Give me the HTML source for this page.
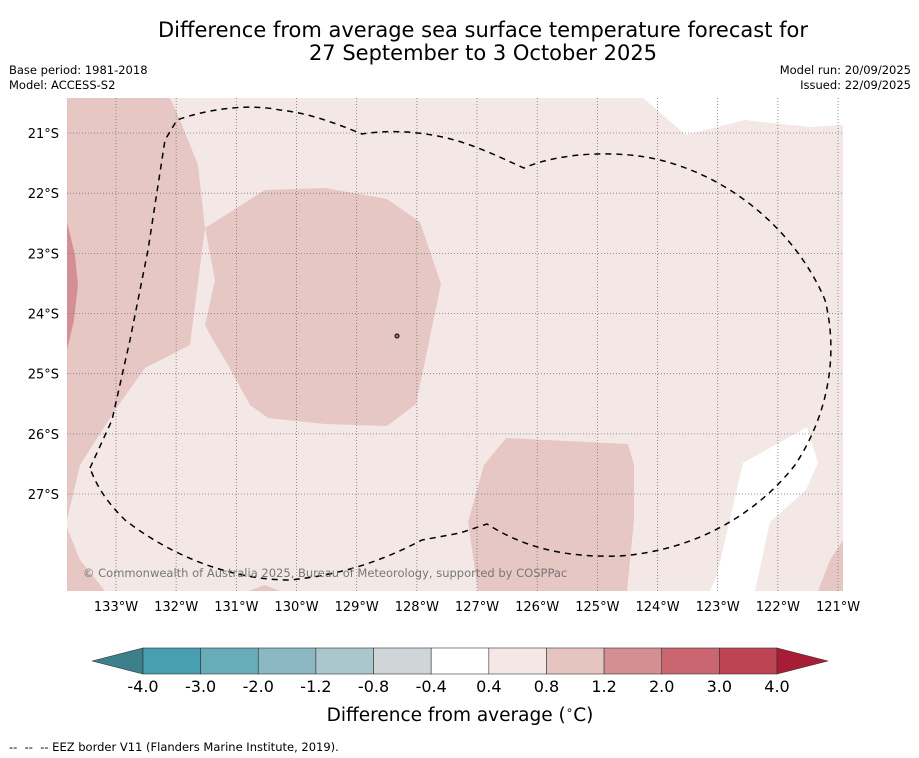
<!DOCTYPE html>
<html><head><meta charset="utf-8">
<style>
body{margin:0;background:#fff;width:919px;height:758px;overflow:hidden;font-family:"DejaVu Sans","Liberation Sans",sans-serif;}
.t{position:absolute;color:#000;}
</style></head>
<body>
<div class="t" style="left:0;width:966px;top:19px;text-align:center;font-size:21px;line-height:23px;">Difference from average sea surface temperature forecast for<br>27 September to 3 October 2025</div>
<div class="t" style="left:9px;top:63px;font-size:11.5px;line-height:15px;">Base period: 1981-2018<br>Model: ACCESS-S2</div>
<div class="t" style="right:8px;top:63px;font-size:11.5px;line-height:15px;text-align:right;">Model run: 20/09/2025<br>Issued: 22/09/2025</div>
<svg id="map" width="919" height="758" style="position:absolute;left:0;top:0" xmlns="http://www.w3.org/2000/svg">
<g>
<rect x="67" y="98" width="776" height="493" fill="#f3e8e6"/>
<polygon points="643,98 843,98 843,125 810,127 745,120 686,135" fill="#fff"/>
<polygon points="67,98 170,98 180,120 198,165 205,228 190,345 145,368 115,410 80,465 67,520" fill="#e6c7c3"/>
<polygon points="205,228 265,190 325,188 387,199 420,222 441,284 416,404 387,426 325,424 268,418 250,405 228,365 213,340 205,325 215,280" fill="#e6c7c3"/>
<polygon points="67,222 75,255 78,285 74,320 67,350" fill="#d48f95"/>
<polygon points="506,438 628,444 634,465 634,520 627,591 478,591 468,522 484,465" fill="#e6c7c3"/>
<polygon points="743,463 807,427 818,463 806,490 770,522 755,591 710,591 717,575" fill="#fff"/>
<polygon points="843,540 830,560 818,591 843,591" fill="#e6c7c3"/>
<polygon points="67,528 80,560 105,591 67,591" fill="#e6c7c3"/>
<polygon points="248,591 265,585 280,591" fill="#e6c7c3"/>
</g>
<g id="grid" stroke="#777" stroke-width="0.8" stroke-dasharray="1,2"></g>
<path d="M90,468 L112,420 L130,340 L148,250 L165,140 L177,120 C205,110 245,103 280,110 C310,113 340,125 362,134 C400,128 440,134 470,145 C490,152 510,162 524,168 C560,152 620,150 660,160 C740,180 800,240 825,300 C840,360 825,420 795,465 C760,510 700,550 620,556 C560,558 520,545 487,524 L460,533 L422,540 C380,562 340,575 290,580 C230,580 170,555 125,520 C110,505 98,490 90,468 Z" fill="none" stroke="#000" stroke-width="1.5" stroke-dasharray="6,5"/>
<circle cx="397" cy="336" r="2" fill="#888" stroke="#000" stroke-width="1"/>
<text x="83" y="577" font-size="11.5" fill="#777" font-family="DejaVu Sans,sans-serif">© Commonwealth of Australia 2025, Bureau of Meteorology, supported by COSPPac</text>
<g id="xt" font-size="13" text-anchor="middle"></g>
<g id="yt" font-size="13" text-anchor="end"></g>
<g id="cb"></g>
<text x="460" y="721" font-size="18.5" text-anchor="middle">Difference from average (<tspan font-size="12" dy="-7">∘</tspan><tspan dy="7">C)</tspan></text>
<text x="9" y="751" font-size="11.5" xml:space="preserve" style="white-space:pre">--  --  -- EEZ border V11 (Flanders Marine Institute, 2019).</text>
</svg>
<script>
const lonTicks=[133,132,131,130,129,128,127,126,125,124,123,122,121];
const latTicks=[21,22,23,24,25,26,27];
const cbLevels=["-4.0","-3.0","-2.0","-1.2","-0.8","-0.4","0.4","0.8","1.2","2.0","3.0","4.0"];
const cbColors=["#479fb0","#68abb9","#8bb7c3","#a9c7cc","#d0d6d8","#ffffff","#f3e8e6","#e6c5c1","#d48f95","#c9666f","#bd4553"];
const NS="http://www.w3.org/2000/svg";
const xs=lon=>116+(133-lon)*60.17, ys=lat=>133+(lat-21)*60.17;
const grid=document.getElementById('grid'),xt=document.getElementById('xt'),yt=document.getElementById('yt'),cb=document.getElementById('cb');
function mk(tag,a,p){const e=document.createElementNS(NS,tag);for(const k in a)e.setAttribute(k,a[k]);p.appendChild(e);return e;}
lonTicks.forEach(l=>{const x=xs(l);
 const g=mk('line',{x1:x,x2:x,y1:98,y2:591},grid);
 
 
 const t=mk('text',{x:x,y:611},xt);t.textContent=l+'°W';
 
 });
latTicks.forEach(l=>{const y=ys(l);
 const g=mk('line',{x1:67,x2:843,y1:y,y2:y},grid);
 
 
 const t=mk('text',{x:59,y:y+5},yt);t.textContent=l+'°S';
 
 });
const cx0=143,cw=(777-143)/11,cy=648,ch=26;
const lt=mk('polygon',{points:`92,${cy+ch/2} ${cx0},${cy} ${cx0},${cy+ch}`,fill:'#3d7f8a',stroke:'#333','stroke-width':0.6},cb);


cbColors.forEach((c,i)=>{const r=mk('rect',{x:cx0+i*cw,y:cy,width:cw,height:ch,fill:c,stroke:'#333','stroke-width':0.6},cb);
 
 });
const rt=mk('polygon',{points:`828,${cy+ch/2} 777,${cy} 777,${cy+ch}`,fill:'#a81c36',stroke:'#333','stroke-width':0.6},cb);


cbLevels.forEach((v,i)=>{const t=mk('text',{x:cx0+i*cw,y:692,'font-size':16,'text-anchor':'middle'},cb);t.textContent=v;
 
 });
</script>
</body></html>
